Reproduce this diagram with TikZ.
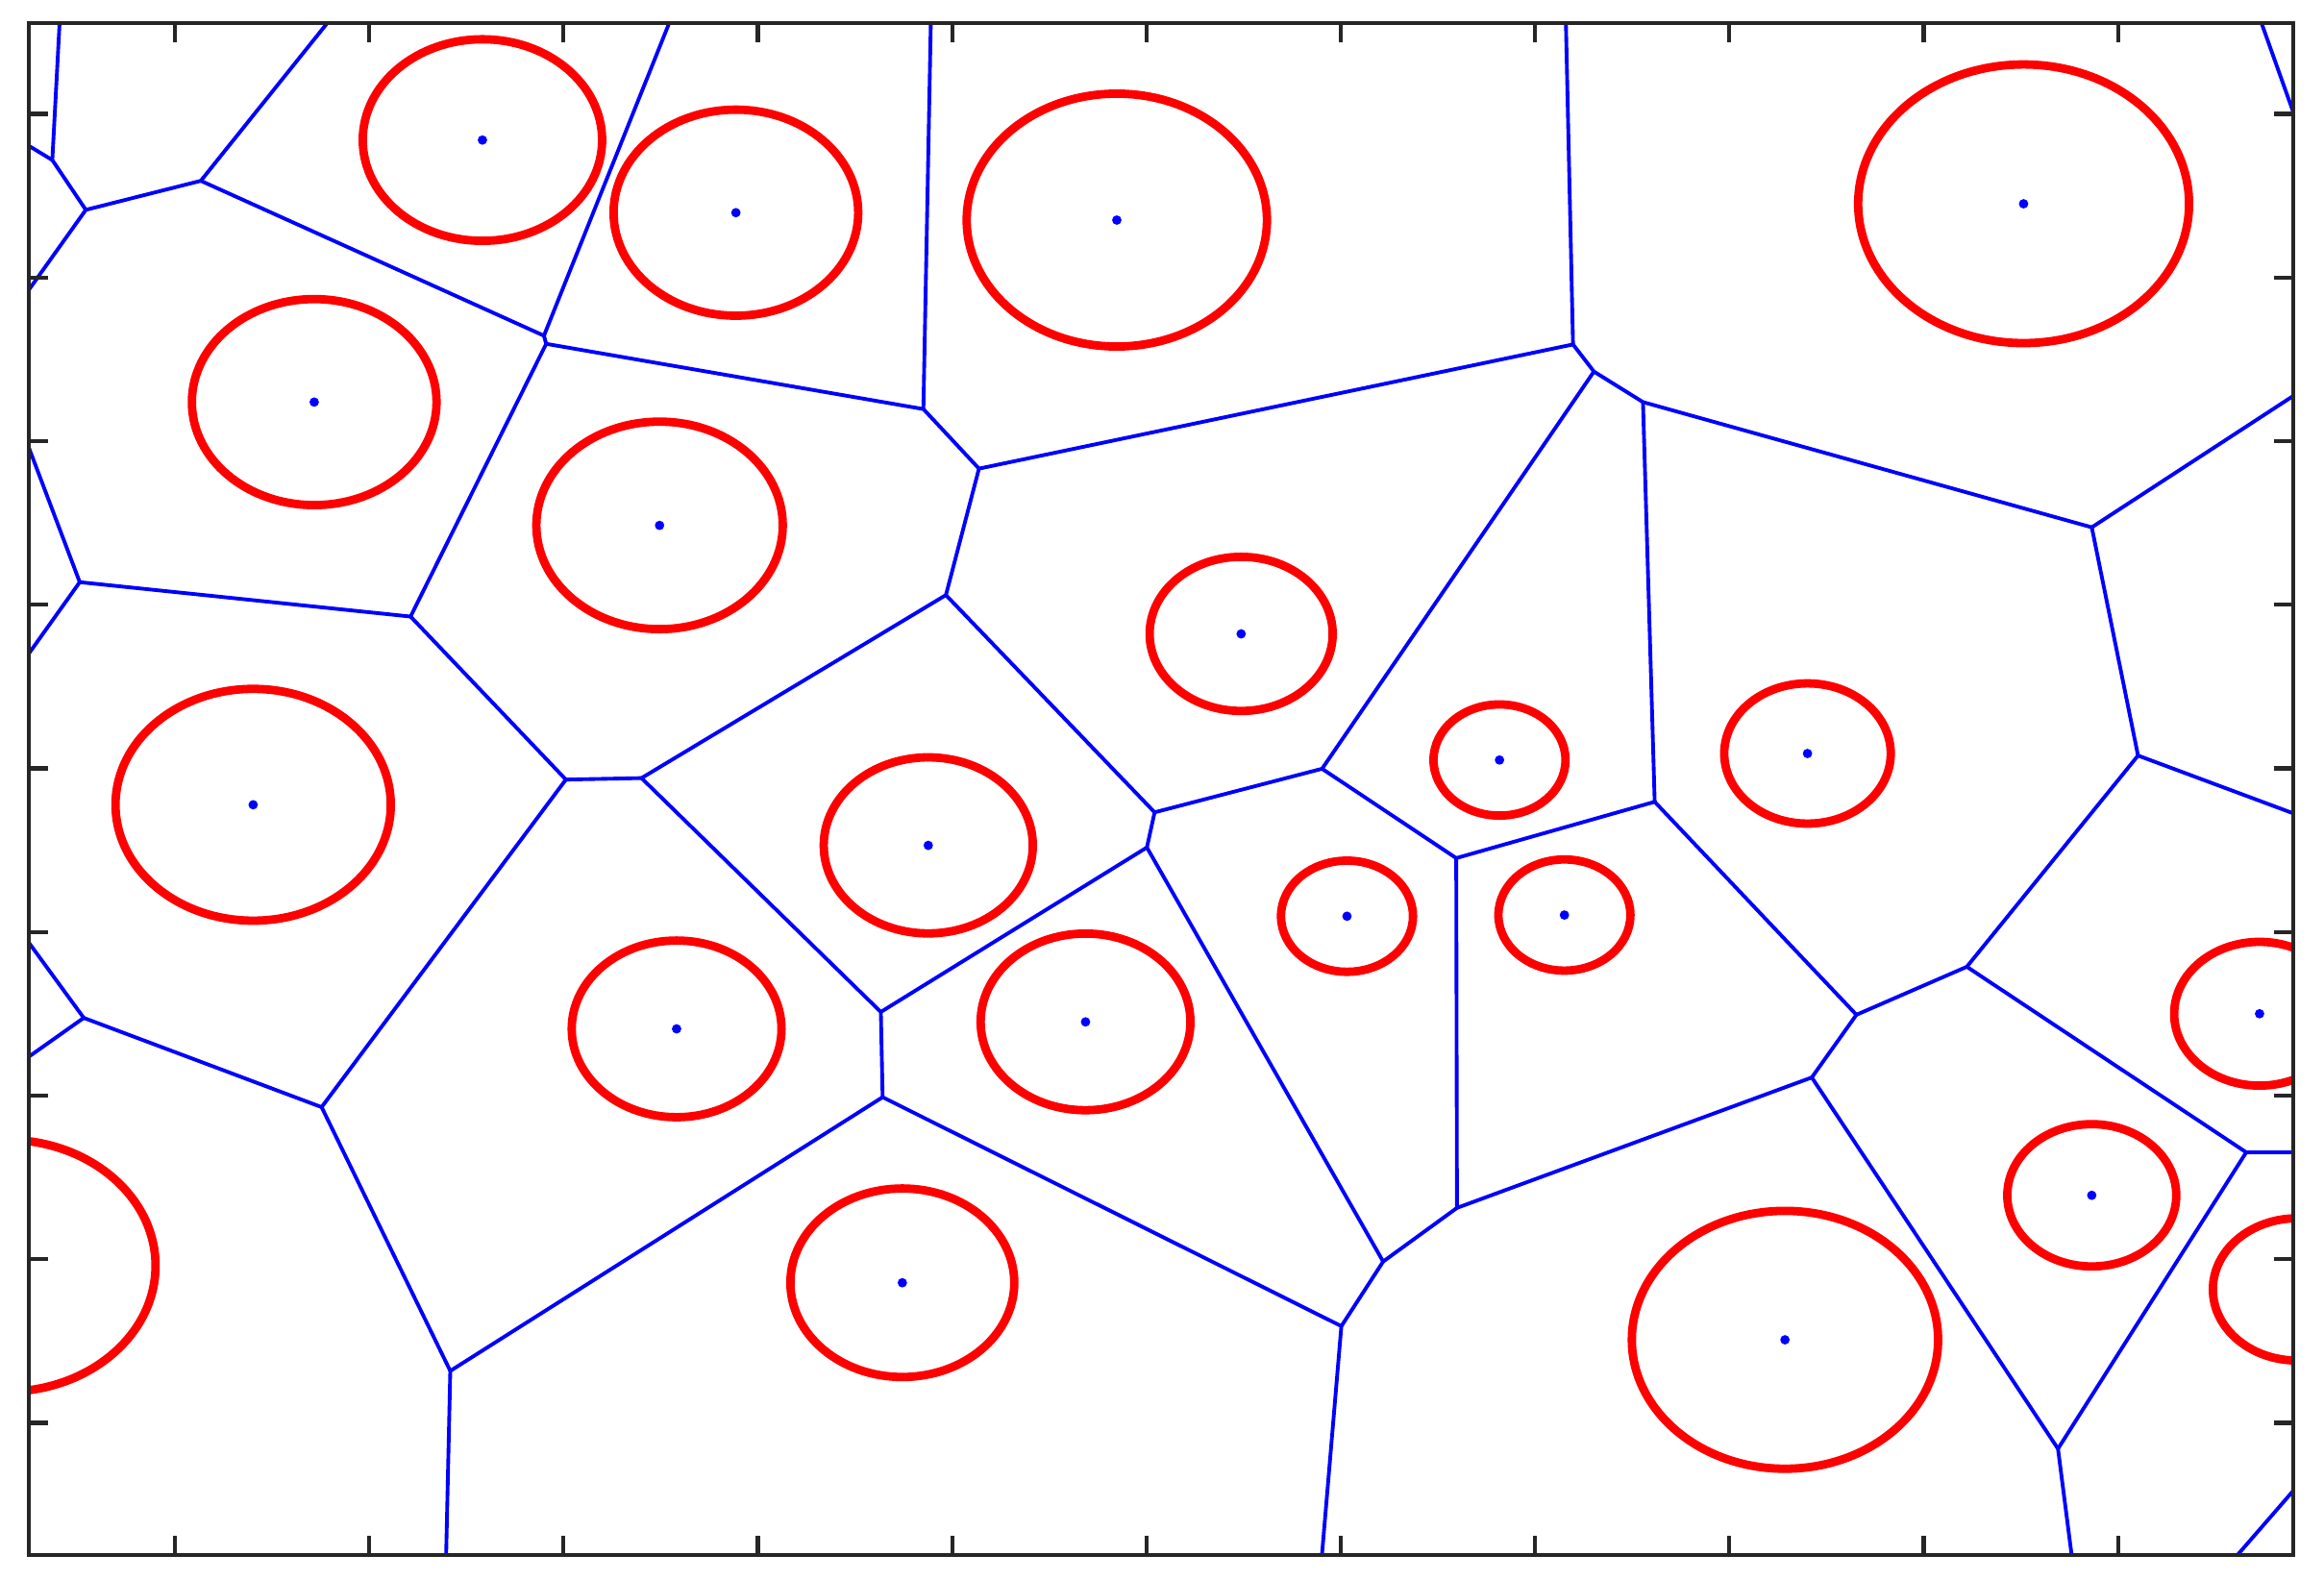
\documentclass[tikz,border=0pt]{standalone}
\usepackage{tikz}
\definecolor{axisgray}{RGB}{38,38,38}
\begin{document}
\begin{tikzpicture}[x=0.015421cm,y=-0.015421cm,
  vedge/.style={draw=blue,line width=1.1pt,line join=round},
  ring/.style={draw=red,line width=2.5pt},
  sitedot/.style={fill=blue},
  frameline/.style={draw=axisgray,line width=1.2pt},
  tickline/.style={draw=axisgray,line width=1.2pt}]
\useasboundingbox[fill=white] (0,0) rectangle (1568,1066);
% frame corners
\coordinate (ftl) at (19.45,15.56);
\coordinate (fbr) at (1547.3,1049.2);
% sites
\coordinate (s1) at (325.5,94.5);
\coordinate (s2) at (496.5,143.5);
\coordinate (s3) at (753.5,148.5);
\coordinate (s4) at (1365.3,137.5);
\coordinate (s5) at (212,271.3);
\coordinate (s6) at (445,354.5);
\coordinate (s7) at (837.4,427.7);
\coordinate (s8) at (170.8,543);
\coordinate (s9) at (626.3,570.4);
\coordinate (s10) at (1011.7,512.8);
\coordinate (s11) at (1219.5,508.4);
\coordinate (s12) at (908.8,618.2);
\coordinate (s13) at (1055.5,617.4);
\coordinate (s14) at (456.5,694.2);
\coordinate (s15) at (732.4,689.5);
\coordinate (s16) at (1524.5,684);
\coordinate (s17) at (1411.3,806.5);
\coordinate (s18) at (608.8,865.5);
\coordinate (s19) at (1204.3,904);
\coordinate (s20) at (4,854);
\coordinate (s21) at (1550,870);
% Voronoi vertices
\coordinate (v1) at (35.3,108);
\coordinate (v2) at (57.9,141.6);
\coordinate (v3) at (135.5,122);
\coordinate (v4a) at (367,226.5);
\coordinate (v4b) at (368.5,232);
\coordinate (v5) at (623,276);
\coordinate (v7) at (660.5,316.2);
\coordinate (v8) at (1061.3,232.4);
\coordinate (v10) at (1075.4,250.7);
\coordinate (v11) at (1108.5,271.3);
\coordinate (v13) at (1411.3,355.8);
\coordinate (v15) at (1442.5,509.8);
\coordinate (v16) at (1327,652.3);
\coordinate (v17) at (1252.5,684.7);
\coordinate (v19) at (1222.4,727);
\coordinate (v21) at (1388.5,977.5);
\coordinate (v18) at (1515.5,777.5);
\coordinate (v14) at (1116.4,541);
\coordinate (v22) at (982.5,579);
\coordinate (v12) at (892,518.7);
\coordinate (v23) at (779,548.1);
\coordinate (v24) at (773.8,571.8);
\coordinate (v26) at (933.2,851.2);
\coordinate (v20) at (983,815);
\coordinate (v27) at (905,894.8);
\coordinate (v28) at (595.5,740.3);
\coordinate (v25) at (594.3,682.8);
\coordinate (v30) at (432.8,525);
\coordinate (v31) at (381.8,526);
\coordinate (v32) at (277,416);
\coordinate (v34) at (53.8,392.8);
\coordinate (v9) at (638.2,401.5);
\coordinate (v33) at (217,747);
\coordinate (v35) at (56.5,686.8);
\coordinate (v29) at (303.8,925);
% border points
\coordinate (t1) at (40.2,15.56);
\coordinate (t2) at (220.8,15.56);
\coordinate (t3) at (451.5,15.56);
\coordinate (t4) at (628,15.56);
\coordinate (t5) at (1056.5,15.56);
\coordinate (t6) at (1525.8,15.56);
\coordinate (r1) at (1547.3,75.8);
\coordinate (r2) at (1547.3,267.1);
\coordinate (r3) at (1547.3,548.8);
\coordinate (r4) at (1547.3,777.5);
\coordinate (r5) at (1547.3,1005.8);
\coordinate (b1) at (301,1049.2);
\coordinate (b2) at (891.9,1049.2);
\coordinate (b3) at (1397.7,1049.2);
\coordinate (b4) at (1509.6,1049.2);
\coordinate (l1) at (19.45,98.4);
\coordinate (l2) at (19.45,195.6);
\coordinate (l3) at (19.45,302);
\coordinate (l4) at (19.45,441);
\coordinate (l5) at (19.45,636);
\coordinate (l6) at (19.45,713);
\begin{scope}
\clip (ftl) rectangle (fbr);
% Voronoi edges
\foreach \a/\b in {t1/v1,l1/v1,v1/v2,v2/l2,v2/v3,v3/t2,v3/v4a,v4a/t3,v4a/v4b,
  v4b/v5,v4b/v32,v5/t4,v5/v7,v7/v8,v7/v9,v8/t5,v8/v10,v10/v11,v10/v12,
  v11/v13,v11/v14,v13/r2,v13/v15,v15/r3,v15/v16,v16/v17,v16/v18,v17/v14,
  v17/v19,v19/v20,v19/v21,v21/v18,v21/b3,v18/r4,t6/r1,b4/r5,v14/v22,
  v22/v12,v22/v20,v12/v23,v23/v9,v23/v24,v24/v25,v24/v26,v26/v20,v26/v27,
  v27/v28,v27/b2,v28/v25,v28/v29,v25/v30,v30/v9,v30/v31,v31/v32,v31/v33,
  v32/v34,v34/l3,v34/l4,v33/v35,v33/v29,v35/l5,v35/l6,v29/b1}
  \draw[vedge] (\a) -- (\b);
% circles and sites
\foreach \n/\r in {1/68,2/69.5,3/85.3,4/94,5/69.5,6/70,7/52,8/78.2,9/59.4,
  10/37.5,11/47.3,12/37.5,13/37.5,14/59.6,15/59.6,16/48.5,17/48,18/63.6,
  19/87,20/85,21/48}{
  \draw[ring] (s\n) ellipse [x radius=1.1875*\r*0.015421cm, y radius=\r*0.015421cm];
  \fill[sitedot] (s\n) circle [radius=1.4pt];
}
\end{scope}
% frame and ticks
\draw[frameline] (ftl) rectangle (fbr);
\foreach \k in {0,...,10}{
  \draw[tickline] (118+131.1*\k,1049.2) -- ++(0,-13);
  \draw[tickline] (118+131.1*\k,15.56) -- ++(0,13);
}
\foreach \k in {0,...,8}{
  \draw[tickline] (19.45,76.8+110.4*\k) -- ++(13,0);
  \draw[tickline] (1547.3,76.8+110.4*\k) -- ++(-13,0);
}
\end{tikzpicture}
\end{document}
